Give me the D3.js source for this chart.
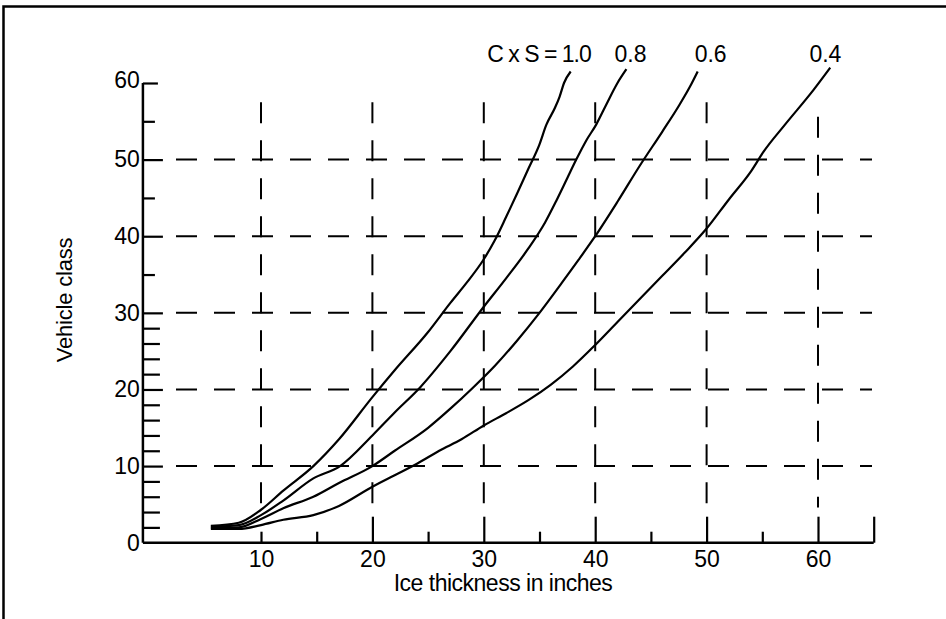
<!DOCTYPE html>
<html>
<head>
<meta charset="utf-8">
<script src="https://cdn.jsdelivr.net/npm/d3@7"></script>
<style>
  html, body { margin: 0; padding: 0; background: #fff; }
  svg { display: block; }
  text { font-family: "Liberation Sans", Arial, sans-serif; fill: #000; }
</style>
</head>
<body>
<svg id="chart" width="946" height="619"></svg>
<script>
// ---- data ----
const curveLabels = ["C x S = 1.0", "0.8", "0.6", "0.4"];
const labelEndAt = [39.6, 44.6, 51.8, 62.1]; // x-value where each label ends
const curve10 = [[5.5,2.2],[8,2.6],[10,4.3],[12,6.8],[14.7,10],[17,13.5],[20,19],[22,22.5],[25,27.5],[27,31.3],[28.5,34],[30,37],[31,39.5],[32,42.5],[33,45.6],[34,48.8],[35,52],[35.6,54.5],[36.4,56.8],[36.8,58.2],[37.2,60],[37.8,61.5]];
const curve08 = [[5.5,2.1],[8,2.3],[10,3.6],[12,5.5],[14.7,8.4],[17.1,10],[20,14],[22,17],[24.3,20.3],[27,25],[30,30.8],[32,34.5],[34,38.4],[35.5,41.8],[36.5,44.6],[37.5,47.6],[38.3,50],[39.2,52.5],[40.1,54.6],[41,57.2],[42,60],[42.8,61.8]];
const curve06 = [[5.5,1.9],[8,2],[10,3.1],[12,4.5],[14.7,6],[17,7.8],[20,10],[22,12],[25,15],[27,17.5],[29,20.2],[31,23.1],[33,26.4],[35,30],[37,33.9],[38.5,36.9],[40,40],[42,44.5],[44,49.2],[46,53.6],[47.5,57],[48.5,59.5],[49.2,61.5]];
const curve04 = [[5.5,1.8],[8,1.8],[10,2.3],[12,3],[14.7,3.6],[17,4.8],[20,7.3],[22,8.8],[24,10.3],[26,12],[28,13.5],[30,15.3],[32,16.9],[34,18.6],[36,20.6],[38,23],[40,25.8],[42,28.8],[44,31.8],[46,34.8],[48,37.8],[50,41],[52,44.8],[54,48.5],[55.1,51],[57,54.5],[59.6,59.1],[61.1,62]];
const series = [curve10, curve08, curve06, curve04];

const xTickLabels = [10, 20, 30, 40, 50, 60];
const xTallTicks = [20, 30, 40, 50, 60, 65];
const xShortTicks = [10, 15, 25, 35, 45, 55];
const yTickLabels = [0, 10, 20, 30, 40, 50, 60];
const yMajorTicks = [10, 20, 30, 40, 50];
const yTopTick = [60];
const yMinorLow = [2,4,6,8,12,14,16,18,22,24,26,28];
const yMinorHigh = [35, 45, 55];
const xGrid = [10, 20, 30, 40, 50, 60];
const yGrid = [10, 20, 30, 40, 50];

// ---- scales ----
const svg = d3.select("#chart");
const x = d3.scaleLinear().domain([0, 65]).range([149.6, 873.7]);
const y = d3.scaleLinear().domain([0, 60]).range([542.7, 83]);
const x0 = x(-0.6);

// frame
svg.append("path").attr("d", "M3.5,619V6.5H946").attr("fill", "none").attr("stroke", "#000").attr("stroke-width", 2.5);

// grid
const grid = svg.append("g").attr("stroke", "#000").attr("stroke-width", 2).attr("stroke-dasharray", "21,17").attr("fill", "none");
grid.selectAll("line.h").data(yGrid).join("line").attr("class", "h")
  .attr("x1", 176).attr("x2", 872).attr("y1", d => y(d)).attr("y2", d => y(d));
grid.selectAll("line.v").data(xGrid).join("line").attr("class", "v")
  .attr("x1", d => x(d)).attr("x2", d => x(d))
  .attr("y1", d => d === 60 ? y(55.6) : y(57.5)).attr("y2", y(4.6));

// axis lines
svg.append("line").attr("x1", x0).attr("x2", x(65)).attr("y1", y(0)).attr("y2", y(0)).attr("stroke", "#000").attr("stroke-width", 2.5);
svg.append("line").attr("x1", x0).attr("x2", x0).attr("y1", y(0)).attr("y2", y(60)).attr("stroke", "#000").attr("stroke-width", 2.5);

function tickAxis(axis, g) {
  g.call(axis);
  g.select(".domain").remove();
  g.selectAll("line").attr("stroke", "#000").attr("stroke-width", 2.2);
}
// y ticks (drawn inward)
const yAxisG = svg.append("g").attr("transform", `translate(${x0},0)`);
tickAxis(d3.axisLeft(y).tickValues(yMajorTicks).tickSize(-20).tickFormat(""), yAxisG.append("g"));
tickAxis(d3.axisLeft(y).tickValues(yTopTick).tickSize(-15).tickFormat(""), yAxisG.append("g"));
tickAxis(d3.axisLeft(y).tickValues(yMinorLow).tickSize(-17).tickFormat(""), yAxisG.append("g"));
tickAxis(d3.axisLeft(y).tickValues(yMinorHigh).tickSize(-12).tickFormat(""), yAxisG.append("g"));
const yLab = yAxisG.append("g").call(d3.axisLeft(y).tickValues(yTickLabels).tickSize(0).tickPadding(3).tickFormat(d3.format("d")));
yLab.select(".domain").remove();
yLab.attr("font-size", 23).attr("font-family", "Liberation Sans, Arial, sans-serif");
yLab.selectAll("text").attr("fill", "#000").attr("dy", d => d === 60 ? "0.2em" : "0.32em");

// x ticks
const xAxisG = svg.append("g").attr("transform", `translate(0,${y(0)})`);
tickAxis(d3.axisBottom(x).tickValues(xTallTicks).tickSize(-26).tickFormat(""), xAxisG.append("g"));
tickAxis(d3.axisBottom(x).tickValues(xShortTicks).tickSize(-11).tickFormat(""), xAxisG.append("g"));
const xLab = xAxisG.append("g").call(d3.axisBottom(x).tickValues(xTickLabels).tickSize(0).tickPadding(8).tickFormat(d3.format("d")));
xLab.select(".domain").remove();
xLab.attr("font-size", 23).attr("font-family", "Liberation Sans, Arial, sans-serif");
xLab.selectAll("text").attr("fill", "#000");

// axis titles
svg.append("text").attr("x", 503).attr("y", 591).attr("text-anchor", "middle").attr("font-size", 23)
  .attr("letter-spacing", -0.5).text("Ice thickness in inches");
svg.append("text").attr("transform", "translate(72,300) rotate(-90)").attr("text-anchor", "middle").attr("font-size", 22)
  .attr("letter-spacing", -0.2).text("Vehicle class");

// curves
const line = d3.line().x(d => x(d[0])).y(d => y(d[1])).curve(d3.curveMonotoneX);
svg.append("g").selectAll("path").data(series).join("path")
  .attr("d", line).attr("fill", "none").attr("stroke", "#000").attr("stroke-width", 2.2).attr("stroke-linejoin", "round");

// curve labels
svg.append("g").selectAll("text").data(curveLabels).join("text")
  .attr("x", (d, i) => x(labelEndAt[i])).attr("y", 62).attr("text-anchor", "end")
  .attr("font-size", 23).attr("letter-spacing", (d, i) => i === 0 ? -1 : 0).text(d => d);
</script>
</body>
</html>
